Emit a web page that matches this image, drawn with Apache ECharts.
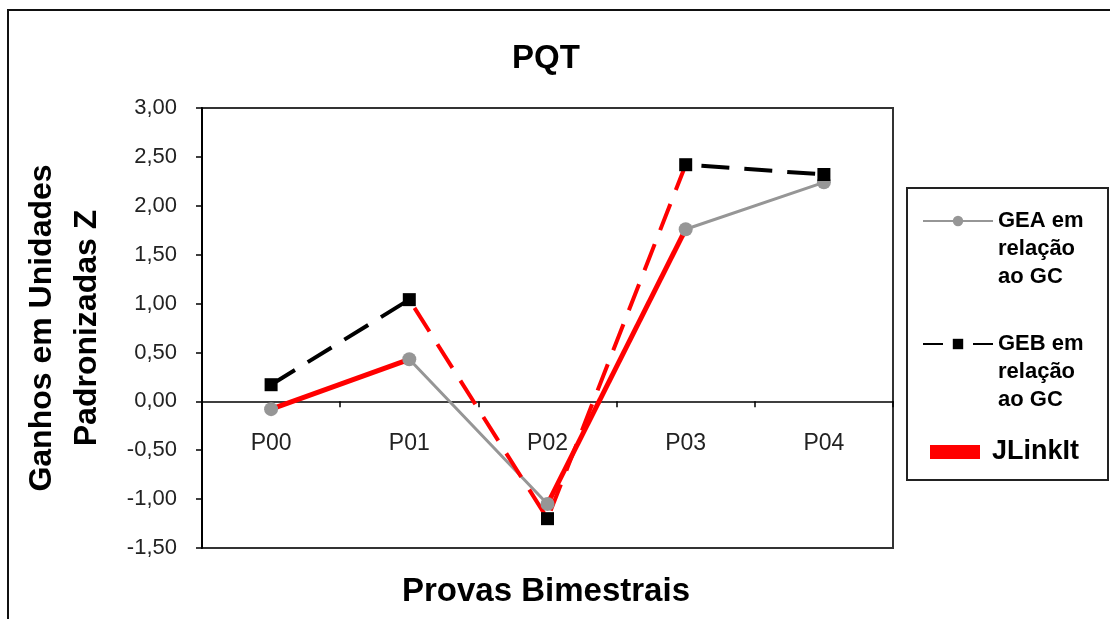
<!DOCTYPE html>
<html><head><meta charset="utf-8">
<script src="https://cdn.jsdelivr.net/npm/echarts@6/dist/echarts.min.js"></script>
<style>html,body{margin:0;padding:0;background:#fff}#c{width:1110px;height:619px}</style>
</head><body><div id="c"></div>
<script>
// ---- data ----
const categories = ['P00', 'P01', 'P02', 'P03', 'P04'];
const geaName = 'GEA em relação ao GC';
const gebName = 'GEB em relação ao GC';
const jlinkName = 'JLinkIt';
const geaValues = [-0.08, 0.43, -1.05, 1.76, 2.24];
const gebValues = [0.17, 1.04, -1.20, 2.42, 2.32];
// JLinkIt highlights: solid segments drawn over GEA, dashed range drawn over GEB (category indices)
const jlinkSolidSegments = [[0, 1], [2, 3]];
const jlinkDashedRange = [1, 3];
const yTickValues = [-1.5, -1.0, -0.5, 0, 0.5, 1.0, 1.5, 2.0, 2.5, 3.0];

const FONT = "'Liberation Sans', Arial, sans-serif";
const legendLines = {};
legendLines[geaName] = '\n\nGEA em\nrelação\nao GC';
legendLines[gebName] = '\n\nGEB em\nrelação\nao GC';
legendLines[jlinkName] = 'JLinkIt';

function segmentData(values, seg) {
  return values.map((v, i) => (i >= seg[0] && i <= seg[1]) ? v : '-');
}

const solidSeries = jlinkSolidSegments.map(seg => ({
  name: jlinkName, type: 'line', data: segmentData(geaValues, seg),
  color: '#ff0000', symbol: 'none', showSymbol: false,
  lineStyle: { width: 5, color: '#ff0000' }, z: 3, silent: true
}));

const option = {
  animation: false,
  backgroundColor: '#ffffff',
  textStyle: { fontFamily: FONT },
  title: [{
    text: 'PQT', left: 541, top: 37, textAlign: 'center',
    textStyle: { fontSize: 33, fontWeight: 'bold', color: '#000', fontFamily: FONT }
  }, {
    text: 'Provas Bimestrais', left: 541, top: 570, textAlign: 'center',
    textStyle: { fontSize: 33, fontWeight: 'bold', color: '#000', fontFamily: FONT }
  }],
  grid: {
    left: 202, right: 217, top: 108, bottom: 71,
    show: true, borderColor: '#333', borderWidth: 2, backgroundColor: 'transparent'
  },
  xAxis: {
    type: 'category', data: categories, boundaryGap: true,
    axisLine: { onZero: true, lineStyle: { color: '#000', width: 1.5 } },
    axisTick: { show: true, length: 6, lineStyle: { color: '#000', width: 1.5 } },
    axisLabel: { color: '#222', fontSize: 23, margin: -116, fontFamily: FONT },
    splitLine: { show: false }
  },
  yAxis: {
    type: 'value',
    min: yTickValues[0], max: yTickValues[yTickValues.length - 1],
    interval: yTickValues[1] - yTickValues[0],
    axisLine: { show: true, lineStyle: { color: '#000', width: 2 } },
    axisTick: { show: true, length: 6, lineStyle: { color: '#000', width: 1.5 } },
    axisLabel: {
      color: '#222', fontSize: 22, margin: 25, fontFamily: FONT,
      formatter: v => v.toFixed(2).replace('.', ',')
    },
    splitLine: { show: false },
    name: 'Ganhos em Unidades\nPadronizadas Z', nameLocation: 'middle', nameGap: 92, nameRotate: 90,
    nameTextStyle: { fontSize: 32, fontWeight: 'bold', color: '#000', lineHeight: 45, fontFamily: FONT }
  },
  visualMap: {
    type: 'piecewise', show: false, dimension: 0, seriesIndex: 1,
    pieces: [
      { lte: jlinkDashedRange[0], color: '#000000' },
      { gt: jlinkDashedRange[0], lt: jlinkDashedRange[1], color: '#ff0000' },
      { gte: jlinkDashedRange[1], color: '#000000' }
    ]
  },
  legend: [{
    data: [{ name: geaName }], left: 922, top: 221 - 70, padding: 0,
    itemWidth: 70, itemHeight: 13, selectedMode: false,
    formatter: n => legendLines[n],
    textStyle: { fontSize: 22, fontWeight: 'bold', color: '#000', lineHeight: 28, fontFamily: FONT }
  }, {
    data: [{ name: gebName }], left: 922, top: 344 - 70, padding: 0,
    itemWidth: 70, itemHeight: 13, selectedMode: false,
    lineStyle: { type: [20, 30] },
    formatter: n => legendLines[n],
    textStyle: { fontSize: 22, fontWeight: 'bold', color: '#000', lineHeight: 28, fontFamily: FONT }
  }, {
    data: [{ name: jlinkName, icon: 'rect' }], left: 930, top: 452 - 15, padding: 0,
    itemWidth: 50, itemHeight: 14, selectedMode: false,
    formatter: n => legendLines[n],
    textStyle: { fontSize: 27, fontWeight: 'bold', color: '#000', lineHeight: 30, padding: [0, 0, 0, 7], fontFamily: FONT }
  }],
  graphic: [{
    type: 'rect', shape: { x: 8, y: 10, width: 1120, height: 630 },
    style: { fill: null, stroke: '#111', lineWidth: 2 }, silent: true, z: -10
  }, {
    type: 'rect', shape: { x: 907, y: 188, width: 201, height: 292 },
    style: { fill: '#fff', stroke: '#222', lineWidth: 2 }, silent: true, z: -5
  }],
  series: [{
    name: geaName, type: 'line', data: geaValues, color: '#969696',
    symbol: 'circle', symbolSize: 14, showSymbol: false,
    lineStyle: { width: 3, color: '#969696' }, itemStyle: { color: '#969696' }, z: 2
  }, {
    name: gebName, type: 'line', data: gebValues, color: '#000',
    symbol: 'rect', symbolSize: 13, showSymbol: false,
    lineStyle: { width: 4, type: [28, 15] }, itemStyle: { color: '#000' }, z: 2
  },
  ...solidSeries,
  {
    name: geaName, type: 'line', data: geaValues, symbol: 'circle', symbolSize: 14,
    lineStyle: { width: 0, opacity: 0 }, itemStyle: { color: '#969696' }, z: 4
  }, {
    name: gebName, type: 'line', data: gebValues, symbol: 'rect', symbolSize: 13,
    lineStyle: { width: 0, opacity: 0 }, itemStyle: { color: '#000' }, z: 4
  }]
};

const chart = echarts.init(document.getElementById('c'), null, { renderer: 'canvas' });
chart.setOption(option);
</script>
</body></html>
